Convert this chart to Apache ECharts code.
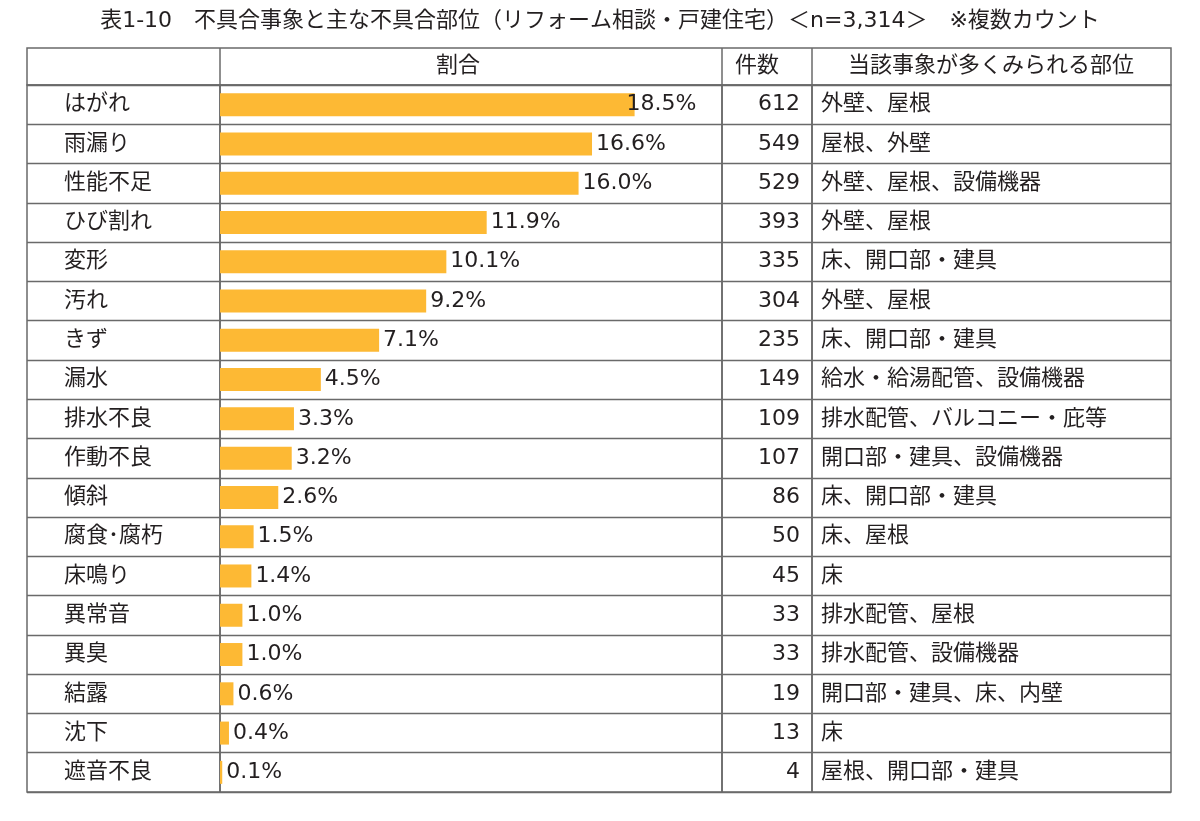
<!DOCTYPE html>
<html><head><meta charset="utf-8">
<script src="https://cdn.jsdelivr.net/npm/echarts@6/dist/echarts.min.js"></script>
<style>html,body{margin:0;padding:0;background:#fff}#c{width:1200px;height:821px}</style>
</head><body><div id="c"></div>
<script>
const titleText = '表1-10　不具合事象と主な不具合部位（リフォーム相談・戸建住宅）＜n=3,314＞　※複数カウント';
const headers = ['', '割合', '件数', '当該事象が多くみられる部位'];
const categories = ['はがれ','雨漏り','性能不足','ひび割れ','変形','汚れ','きず','漏水','排水不良','作動不良','傾斜','腐食･腐朽','床鳴り','異常音','異臭','結露','沈下','遮音不良'];
const shares = [18.5,16.6,16.0,11.9,10.1,9.2,7.1,4.5,3.3,3.2,2.6,1.5,1.4,1.0,1.0,0.6,0.4,0.1];
const counts = [612,549,529,393,335,304,235,149,109,107,86,50,45,33,33,19,13,4];
const locations = ['外壁、屋根','屋根、外壁','外壁、屋根、設備機器','外壁、屋根','床、開口部・建具','外壁、屋根','床、開口部・建具','給水・給湯配管、設備機器','排水配管、バルコニー・庇等','開口部・建具、設備機器','床、開口部・建具','床、屋根','床','排水配管、屋根','排水配管、設備機器','開口部・建具、床、内壁','床','屋根、開口部・建具'];

const FONT = "'DejaVu Sans','Noto Sans CJK JP',sans-serif";
const TXT = '#231f20';
const LINE = '#6a6a6a';
const cols = [27, 220, 722, 812, 1171];
const TOP = 85, BOTTOM = 792, HTOP = 48;

const chart = echarts.init(document.getElementById('c'), null, {renderer:'canvas'});

const grids = [], xAxes = [], yAxes = [];
for (let i = 0; i < 4; i++) {
  grids.push({left: cols[i], top: TOP, width: cols[i+1]-cols[i], height: BOTTOM-TOP,
    show: true, borderColor: LINE, borderWidth: 1.5, backgroundColor: 'transparent'});
  xAxes.push({gridIndex: i, type: 'value', min: 0, max: i === 1 ? 22.4 : 1, show: false});
}
const ySplit = {show: true, interval: 0, lineStyle: {color: LINE, width: 1.3}};
yAxes.push({gridIndex: 0, type: 'category', inverse: true, data: categories,
  axisLine: {show: false}, axisTick: {show: false}, splitLine: ySplit,
  axisLabel: {inside: true, interval: 0, margin: 37, fontSize: 22, color: TXT, fontFamily: FONT}});
yAxes.push({gridIndex: 1, type: 'category', inverse: true, data: categories,
  axisLine: {show: false}, axisTick: {show: false}, splitLine: ySplit, axisLabel: {show: false}});
yAxes.push({gridIndex: 2, type: 'category', inverse: true, position: 'right', data: counts.map(String),
  axisLine: {show: false}, axisTick: {show: false}, splitLine: ySplit,
  axisLabel: {inside: true, interval: 0, margin: 12, fontSize: 22, color: TXT, fontFamily: FONT}});
yAxes.push({gridIndex: 3, type: 'category', inverse: true, data: locations,
  axisLine: {show: false}, axisTick: {show: false}, splitLine: ySplit,
  axisLabel: {inside: true, interval: 0, margin: 9, fontSize: 22, color: TXT, fontFamily: FONT}});

const barData = shares.map((v, i) => i === 0 ? {value: v, label: {offset: [-12, 0]}} : v);

const headerGraphics = [
  {type: 'rect', shape: {x: cols[0], y: HTOP, width: cols[4]-cols[0], height: TOP-HTOP},
   style: {fill: 'none', stroke: LINE, lineWidth: 1.5}, z: 10}
];
for (let i = 1; i < 4; i++) {
  headerGraphics.push({type: 'line', shape: {x1: cols[i], y1: HTOP, x2: cols[i], y2: TOP},
    style: {stroke: LINE, lineWidth: 1.5}, z: 10});
}
const headerCenters = [0, 458, 757, 991];
for (let i = 1; i < 4; i++) {
  headerGraphics.push({type: 'text', x: headerCenters[i], y: (HTOP+TOP)/2,
    style: {text: headers[i], font: '22px ' + FONT, fill: TXT, align: 'center', verticalAlign: 'middle'}, z: 10});
}

chart.setOption({
  backgroundColor: '#fff',
  animation: false,
  title: {text: titleText, left: 'center', top: 5,
    textStyle: {fontSize: 22, fontWeight: 'normal', color: TXT, fontFamily: FONT}},
  grid: grids, xAxis: xAxes, yAxis: yAxes,
  graphic: headerGraphics,
  series: [{
    type: 'bar', xAxisIndex: 1, yAxisIndex: 1, data: barData, barWidth: 23,
    itemStyle: {color: '#fdb934'},
    label: {show: true, position: 'right', distance: 4, fontSize: 22, color: TXT, fontFamily: FONT,
      formatter: p => p.value.toFixed(1) + '%'}
  }]
});
</script></body></html>
